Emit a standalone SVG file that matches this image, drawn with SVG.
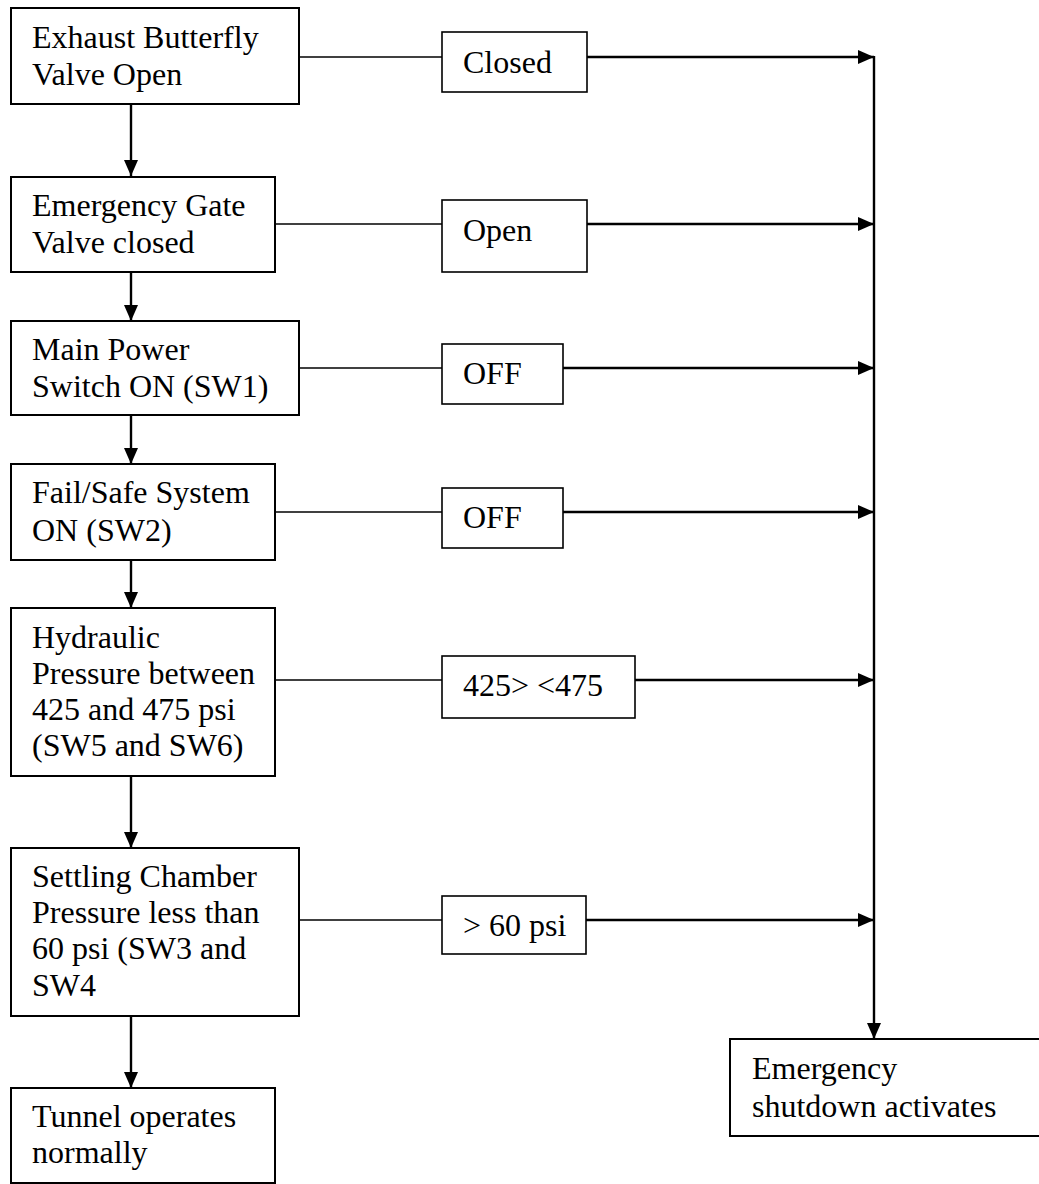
<svg xmlns="http://www.w3.org/2000/svg" width="1039" height="1184" viewBox="0 0 1039 1184">
<style>
.box{fill:#fff;stroke:#000;stroke-width:2}
.lbl{fill:#fff;stroke:#000;stroke-width:1.6}
.t{font-family:"Liberation Serif","Times New Roman",serif;font-size:32px;fill:#000}
.thin{stroke:#000;stroke-width:1.4;fill:none}
.thick{stroke:#000;stroke-width:2.4;fill:none}
</style>
<defs>
<marker id="ah" markerUnits="userSpaceOnUse" markerWidth="16" markerHeight="14" refX="16" refY="7" orient="auto">
<path d="M0,0 L16,7 L0,14 z" fill="#000"/>
</marker>
</defs>
<rect width="1039" height="1184" fill="#fff"/>
<g id="connectors">
<line class="thick" x1="131" y1="104" x2="131" y2="176" marker-end="url(#ah)"/>
<line class="thick" x1="131" y1="272" x2="131" y2="321" marker-end="url(#ah)"/>
<line class="thick" x1="131" y1="415" x2="131" y2="464" marker-end="url(#ah)"/>
<line class="thick" x1="131" y1="560" x2="131" y2="608" marker-end="url(#ah)"/>
<line class="thick" x1="131" y1="776" x2="131" y2="848" marker-end="url(#ah)"/>
<line class="thick" x1="131" y1="1016" x2="131" y2="1088" marker-end="url(#ah)"/>
<line class="thin" x1="299" y1="57" x2="442" y2="57"/>
<line class="thin" x1="275" y1="224" x2="442" y2="224"/>
<line class="thin" x1="299" y1="368" x2="442" y2="368"/>
<line class="thin" x1="275" y1="512" x2="442" y2="512"/>
<line class="thin" x1="275" y1="680" x2="442" y2="680"/>
<line class="thin" x1="299" y1="920" x2="442" y2="920"/>
<line class="thick" x1="587" y1="57" x2="874" y2="57" marker-end="url(#ah)"/>
<line class="thick" x1="587" y1="224" x2="874" y2="224" marker-end="url(#ah)"/>
<line class="thick" x1="563" y1="368" x2="874" y2="368" marker-end="url(#ah)"/>
<line class="thick" x1="563" y1="512" x2="874" y2="512" marker-end="url(#ah)"/>
<line class="thick" x1="635" y1="680" x2="874" y2="680" marker-end="url(#ah)"/>
<line class="thick" x1="586" y1="920" x2="874" y2="920" marker-end="url(#ah)"/>
<line class="thick" x1="874" y1="56" x2="874" y2="1039" marker-end="url(#ah)"/>
</g>
<g id="n1"><rect class="box" x="11" y="8" width="288" height="96"/>
<text class="t" x="32" y="48">Exhaust Butterfly</text><text class="t" x="32" y="85">Valve Open</text></g>
<g id="n2"><rect class="box" x="11" y="177" width="264" height="95"/>
<text class="t" x="32" y="216">Emergency Gate</text><text class="t" x="32" y="253">Valve closed</text></g>
<g id="n3"><rect class="box" x="11" y="321" width="288" height="94"/>
<text class="t" x="32" y="360">Main Power</text><text class="t" x="32" y="397">Switch ON (SW1)</text></g>
<g id="n4"><rect class="box" x="11" y="464" width="264" height="96"/>
<text class="t" x="32" y="503">Fail/Safe System</text><text class="t" x="32" y="541">ON (SW2)</text></g>
<g id="n5"><rect class="box" x="11" y="608" width="264" height="168"/>
<text class="t" x="32" y="648">Hydraulic</text><text class="t" x="32" y="684">Pressure between</text><text class="t" x="32" y="720">425 and 475 psi</text><text class="t" x="32" y="756">(SW5 and SW6)</text></g>
<g id="n6"><rect class="box" x="11" y="848" width="288" height="168"/>
<text class="t" x="32" y="887">Settling Chamber</text><text class="t" x="32" y="923">Pressure less than</text><text class="t" x="32" y="959">60 psi (SW3 and</text><text class="t" x="32" y="996">SW4</text></g>
<g id="n7"><rect class="box" x="11" y="1088" width="264" height="95"/>
<text class="t" x="32" y="1127">Tunnel operates</text><text class="t" x="32" y="1163">normally</text></g>
<g id="c1"><rect class="lbl" x="442" y="32" width="145" height="60"/><text class="t" x="463" y="73">Closed</text></g>
<g id="c2"><rect class="lbl" x="442" y="200" width="145" height="72"/><text class="t" x="463" y="241">Open</text></g>
<g id="c3"><rect class="lbl" x="442" y="344" width="121" height="60"/><text class="t" x="463" y="384">OFF</text></g>
<g id="c4"><rect class="lbl" x="442" y="488" width="121" height="60"/><text class="t" x="463" y="528">OFF</text></g>
<g id="c5"><rect class="lbl" x="442" y="656" width="193" height="62"/><text class="t" x="463" y="696">425&gt; &lt;475</text></g>
<g id="c6"><rect class="lbl" x="442" y="896" width="144" height="58"/><text class="t" x="463" y="936">&gt; 60 psi</text></g>
<g id="e"><rect class="box" x="730" y="1039" width="312" height="97"/>
<text class="t" x="752" y="1079">Emergency</text><text class="t" x="752" y="1117">shutdown activates</text></g>
</svg>
